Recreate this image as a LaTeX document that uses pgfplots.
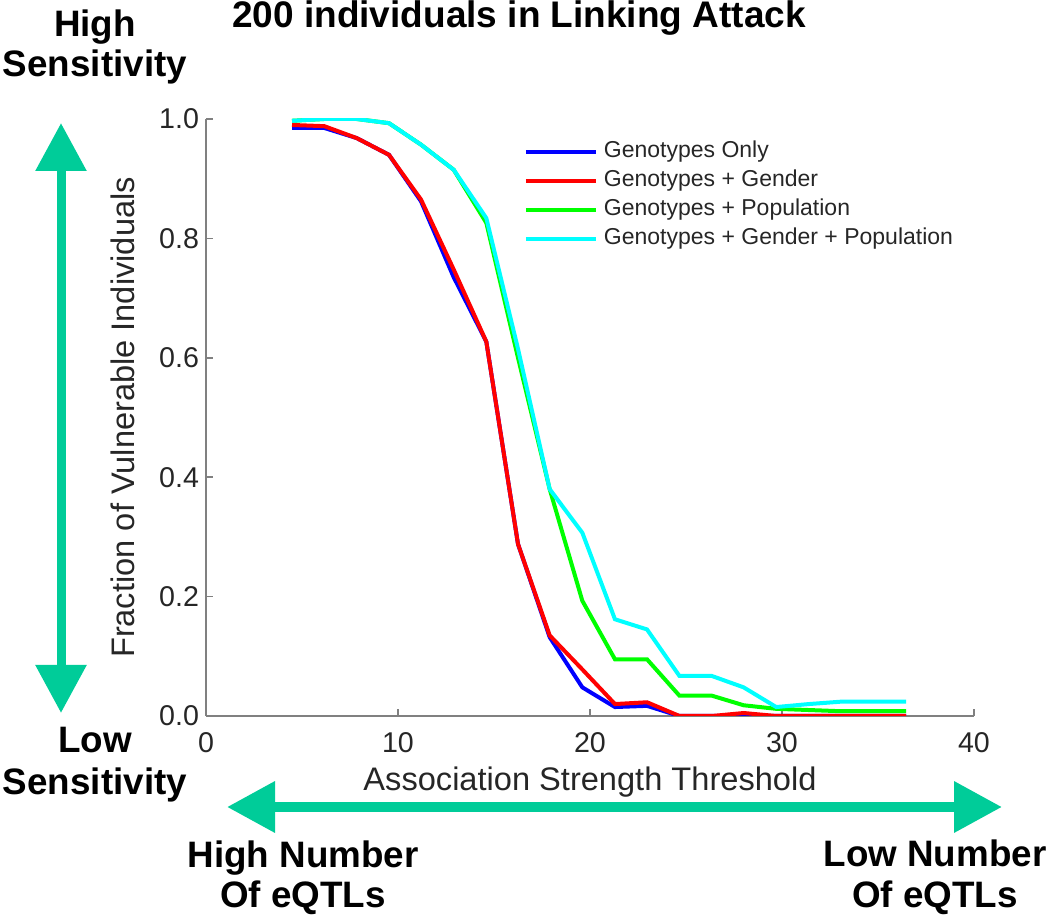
\documentclass[border=0pt]{standalone}
\usepackage{fontspec}
\setmainfont{Liberation Sans}
\usepackage{pgfplots}
\pgfplotsset{compat=1.18}
\usepackage{pgfplotstable}
\usetikzlibrary{arrows.meta}
\definecolor{arrowgreen}{RGB}{0,204,153}
\definecolor{axgray}{RGB}{128,128,128}
\definecolor{txt}{RGB}{38,38,38}
\definecolor{sblue}{RGB}{0,0,255}
\definecolor{sred}{RGB}{255,0,0}
\definecolor{sgreen}{RGB}{0,255,0}
\definecolor{scyan}{RGB}{0,255,255}

\pgfplotstableread{
x     blue   red    green  cyan
4.48  0.985  0.990  0.997  0.997
6.16  0.985  0.988  1.000  1.000
7.85  0.968  0.968  1.000  1.000
9.53  0.940  0.940  0.993  0.993
11.2  0.862  0.865  0.957  0.957
12.9  0.735  0.748  0.915  0.915
14.6  0.627  0.627  0.826  0.834
16.25 0.288  0.288  0.600  0.615
17.9  0.132  0.135  0.380  0.380
19.6  0.048  0.078  0.193  0.307
21.3  0.015  0.020  0.095  0.162
22.97 0.017  0.023  0.095  0.145
24.66 0.000  0.000  0.034  0.067
26.35 0.000  0.000  0.034  0.067
28.0  0.000  0.005  0.018  0.048
29.7  0.000  0.000  0.012  0.015
31.4  0.000  0.000  0.010  0.020
33.07 0.000  0.000  0.008  0.024
34.75 0.000  0.000  0.008  0.024
36.46 0.000  0.000  0.008  0.024
}\datatable

\begin{document}
\begin{tikzpicture}[x=1pt,y=1pt]
\useasboundingbox (0,0) rectangle (525,458);
\begin{axis}[
  at={(103pt,100pt)}, anchor=south west,
  width=384pt, height=298.5pt, scale only axis,
  xmin=0, xmax=40, ymin=0, ymax=1,
  axis x line*=bottom, axis y line*=left,
  axis line style={axgray, line width=0.75pt, -},
  x axis line style={-}, y axis line style={-},
  xtick={0,10,20,30,40}, ytick={0,0.2,0.4,0.6,0.8,1.0},
  tick align=inside, major tick length=3.5pt,
  tick style={axgray, line width=0.75pt},
  tick label style={font=\fontsize{14.3}{16}\selectfont, text=txt},
  /pgf/number format/assume math mode=true,
  yticklabel style={/pgf/number format/.cd, fixed, fixed zerofill, precision=1},
  xticklabel style={yshift=-4.7pt},
  xlabel={Association Strength Threshold},
  ylabel={Fraction of Vulnerable Individuals},
  label style={font=\fontsize{16.3}{19}\selectfont, text=txt},
  xlabel style={at={(axis description cs:0.5,-0.124)}, anchor=base},
  ylabel style={at={(axis description cs:-0.0931,0.5)}, anchor=base},
  legend cell align=left,
  legend image code/.code={\draw[#1, line width=2pt] (0pt,0pt) -- (35pt,0pt);},
  legend style={at={(axis description cs:0.414,0.9698)}, anchor=north west,
    draw=none, fill=none, inner sep=0pt, outer sep=0pt, row sep=0pt, column sep=3pt,
    font=\fontsize{11.5}{13}\selectfont, text=txt,
    nodes={inner sep=0pt, text height=10pt, text depth=4.5pt}},
]
\addplot[sblue, line width=2pt] table[x=x, y=blue] {\datatable};
\addlegendentry{Genotypes Only}
\addplot[sred, line width=2pt] table[x=x, y=red] {\datatable};
\addlegendentry{Genotypes + Gender}
\addplot[sgreen, line width=2pt] table[x=x, y=green] {\datatable};
\addlegendentry{Genotypes + Population}
\addplot[scyan, line width=2pt] table[x=x, y=cyan] {\datatable};
\addlegendentry{Genotypes + Gender + Population}
\end{axis}

\node[font=\bfseries\fontsize{18.5}{20}\selectfont, anchor=base] at (259.5,444.3) {200 individuals in Linking Attack};

\begin{scope}[every node/.style={font=\bfseries\fontsize{18.4}{20}\selectfont, anchor=base}]
\node at (47.5,439.5) {High};
\node at (47.5,419.5) {Sensitivity};
\node at (47.5,81.5) {Low};
\node at (47.5,60.5) {Sensitivity};
\node at (151.5,24) {High Number};
\node at (151.5,4.5) {Of eQTLs};
\node at (467.5,24.5) {Low Number};
\node at (467.5,4) {Of eQTLs};
\end{scope}

\draw[arrowgreen, line width=4.5pt, {Triangle[width=24.5pt,length=24pt]}-{Triangle[width=24.5pt,length=24pt]}] (30.5,396.5) -- (30.5,101.5);
\draw[arrowgreen, line width=5pt, {Triangle[width=24.5pt,length=24pt]}-{Triangle[width=24.5pt,length=24pt]}] (113.5,54.5) -- (501,54.5);
\end{tikzpicture}
\end{document}
